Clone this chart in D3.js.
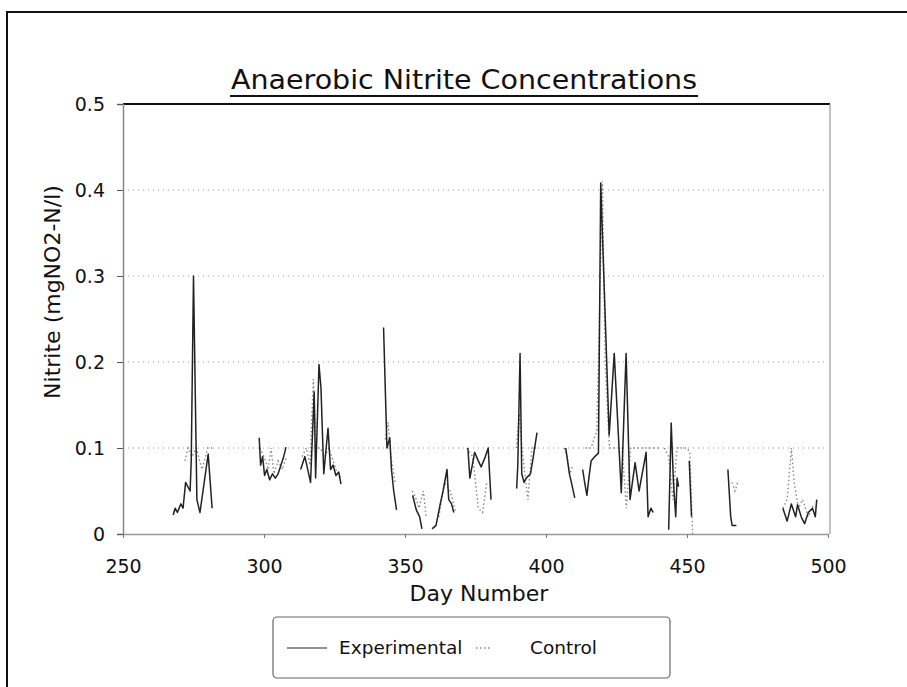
<!DOCTYPE html>
<html><head><meta charset="utf-8">
<script src="https://cdn.jsdelivr.net/npm/d3@7"></script>
<style>body{margin:0;background:#fff}svg{display:block}</style>
</head><body>
<svg id="c" width="907" height="687"></svg>
<script>
const chartTitle = "Anaerobic Nitrite Concentrations";
const xLabel = "Day Number";
const yLabel = "Nitrite (mgNO2-N/l)";
const seriesNames = ["Experimental", "Control"];
const xTicks = [250, 300, 350, 400, 450, 500];
const yTicks = [0, 0.1, 0.2, 0.3, 0.4, 0.5];
const gridValues = [0.1, 0.2, 0.3, 0.4];

// null entries break the line (sampling gaps)
const expDay = [267.8, 268.5, 269.3, 270.5, 271.3, 272.2, 273.8, 274.2, 275.0, 276.2, 277.3, 280.2, 281.6, null,
  298.3, 298.8, 299.5, 300.2, 301.0, 302.0, 303.0, 304.0, 305.0, 306.0, 307.0, 307.8, null,
  313.0, 314.5, 316.5, 317.8, 318.3, 319.5, 320.2, 321.2, 322.7, 323.6, 324.5, 325.5, 326.5, 327.3, null,
  342.4, 343.6, 344.6, 345.2, 346.0, 347.0, null,
  352.7, 354.0, 355.2, 356.0, 357.5, 359.6, 361.0, 362.5, 363.5, 364.9, 365.5, 366.5, 367.3, null,
  372.3, 373.0, 374.7, 376.0, 377.0, 378.5, 379.5, 380.5, null,
  389.6, 390.0, 390.8, 391.4, 392.2, 393.0, 394.5, 395.5, 396.8, null,
  407.0, 408.3, 409.0, 410.2, null,
  413.0, 413.7, 414.5, 415.2, 416.0, 417.3, 418.6, 419.4, 422.4, 424.2, 426.7, 428.4, 429.8, 431.6, 433.0, 435.5, 436.2, 437.2, 438.0, null,
  443.5, 444.4, 445.2, 446.0, 446.5, 447.0, null,
  450.8, 451.6, null,
  464.5, 465.5, 466.0, 467.5, null,
  484.0, 485.5, 487.0, 488.5, 489.2, 490.5, 491.7, 493.0, 494.5, 495.5, 496.0];
const expNitrite = [0.022, 0.030, 0.025, 0.035, 0.030, 0.060, 0.050, 0.085, 0.300, 0.040, 0.025, 0.093, 0.030, null,
  0.112, 0.080, 0.090, 0.068, 0.075, 0.063, 0.070, 0.065, 0.070, 0.080, 0.090, 0.101, null,
  0.075, 0.090, 0.060, 0.165, 0.065, 0.197, 0.170, 0.070, 0.123, 0.075, 0.080, 0.068, 0.072, 0.058, null,
  0.240, 0.100, 0.112, 0.075, 0.050, 0.028, null,
  0.045, 0.028, 0.020, 0.006, null, 0.006, 0.010, 0.035, 0.050, 0.075, 0.040, 0.035, 0.025, null,
  0.100, 0.065, 0.095, 0.085, 0.078, 0.090, 0.100, 0.040, null,
  0.053, 0.080, 0.210, 0.070, 0.060, 0.065, 0.070, 0.090, 0.118, null,
  0.100, 0.070, 0.060, 0.042, null,
  0.075, 0.060, 0.045, 0.065, 0.085, 0.090, 0.094, 0.408, 0.115, 0.210, 0.048, 0.210, 0.040, 0.083, 0.050, 0.095, 0.020, 0.030, 0.025, null,
  0.005, 0.129, 0.060, 0.020, 0.065, 0.055, null,
  0.085, 0.020, null,
  0.075, 0.020, 0.010, 0.010, null,
  0.030, 0.015, 0.035, 0.020, 0.034, 0.020, 0.012, 0.025, 0.030, 0.020, 0.040];

const ctlDay = [272.0, 273.0, 274.5, 276.0, 278.0, 280.0, 282.0, null,
  298.5, 300.0, 301.5, 302.5, 303.5, 305.0, 306.5, 308.0, null,
  313.5, 315.0, 316.3, 317.5, 318.5, 320.0, 321.5, 323.0, 324.5, 326.0, 327.5, null,
  343.0, 344.0, 345.0, 346.5, null,
  352.5, 353.5, 355.0, 356.5, 357.5, null,
  362.0, 364.0, 366.0, 368.0, null,
  372.0, 374.0, 376.0, 377.5, 379.0, null,
  389.5, 390.5, 391.5, 392.5, 393.6, 395.0, 396.5, null,
  406.5, 407.5, 408.5, 409.5, null,
  414.0, 416.0, 418.0, 419.0, 420.0, 421.0, 422.5, 424.0, 425.5, 427.0, 428.5, 430.0, 432.0, 434.0, 436.0, 438.0, 440.0, null,
  442.0, 443.5, 445.0, 446.5, 448.0, 450.0, 451.0, 452.0, null,
  466.0, 467.0, 468.0, null,
  484.0, 485.5, 487.0, 488.0, 489.5, 491.0, 493.0, 495.0];
const ctlNitrite = [0.085, 0.100, 0.090, 0.100, 0.075, 0.100, 0.100, null,
  0.100, 0.090, 0.075, 0.100, 0.070, 0.085, 0.075, 0.090, null,
  0.090, 0.100, 0.080, 0.180, 0.100, 0.100, 0.090, 0.100, 0.085, 0.070, 0.065, null,
  0.110, 0.130, 0.090, 0.060, null,
  0.050, 0.045, 0.030, 0.050, 0.020, null,
  0.020, 0.060, 0.050, 0.025, null,
  0.100, 0.090, 0.030, 0.025, 0.060, null,
  0.100, 0.140, 0.100, 0.070, 0.040, 0.100, 0.100, null,
  0.100, 0.090, 0.070, 0.080, null,
  0.100, 0.100, 0.120, 0.260, 0.410, 0.200, 0.100, 0.100, 0.100, 0.100, 0.030, 0.100, 0.100, 0.100, 0.100, 0.100, 0.100, null,
  0.100, 0.090, 0.040, 0.100, 0.100, 0.100, 0.095, 0.000, null,
  0.060, 0.050, 0.060, null,
  0.030, 0.040, 0.100, 0.060, 0.030, 0.040, 0.020, 0.035];

const FONT = "'DejaVu Sans', Arial, sans-serif";
const svg = d3.select("#c");

// outer frame
svg.append("rect").attr("x", 7).attr("y", 12).attr("width", 920).attr("height", 700)
  .attr("fill", "none").attr("stroke", "#111").attr("stroke-width", 2);

const x = d3.scaleLinear().domain([250, 500]).range([123, 828]);
const y = d3.scaleLinear().domain([0, 0.5]).range([534, 104]);

// gridlines (dotted)
svg.append("g").selectAll("line").data(gridValues).join("line")
  .attr("x1", x(250)).attr("x2", x(500))
  .attr("y1", d => y(d)).attr("y2", d => y(d))
  .attr("stroke", "#999").attr("stroke-width", 1).attr("stroke-dasharray", "1,4");

// plot border: top black, right gray
svg.append("line").attr("x1", x(250)).attr("x2", x(500) + 2).attr("y1", y(0.5)).attr("y2", y(0.5))
  .attr("stroke", "#111").attr("stroke-width", 2);
svg.append("line").attr("x1", x(500) + 2).attr("x2", x(500) + 2).attr("y1", y(0.5)).attr("y2", y(0))
  .attr("stroke", "#999").attr("stroke-width", 1.2);

// axes
const yAxis = svg.append("g").attr("transform", `translate(${x(250)},0)`)
  .call(d3.axisLeft(y).tickValues(yTicks).tickSize(6).tickPadding(12)
    .tickFormat(d => d === 0 ? "0" : d3.format(".1f")(d)));
yAxis.select(".domain").attr("stroke", "#888").attr("stroke-width", 1.5);
yAxis.selectAll(".tick line").attr("stroke", "#555");
yAxis.selectAll("text").attr("font-family", FONT).attr("font-size", 19).attr("fill", "#111");

const xAxis = svg.append("g").attr("transform", `translate(0,${y(0)})`)
  .call(d3.axisBottom(x).tickValues(xTicks).tickSize(4).tickPadding(22).tickSizeOuter(0));
xAxis.select(".domain").attr("stroke", "#999").attr("stroke-width", 1.5);
xAxis.selectAll(".tick line").attr("stroke", "#777");
xAxis.selectAll("text").attr("font-family", FONT).attr("font-size", 19).attr("fill", "#111");

// lines
const line = d3.line().defined(d => d[1] !== null).x(d => x(d[0])).y(d => y(d[1]));
const ctlPts = ctlDay.map((d, i) => [d, ctlNitrite[i]]);
const expPts = expDay.map((d, i) => [d, expNitrite[i]]);
svg.append("path").datum(ctlPts).attr("d", line).attr("fill", "none")
  .attr("stroke", "#888").attr("stroke-width", 1.4).attr("stroke-dasharray", "1.5,2.5");
svg.append("path").datum(expPts).attr("d", line).attr("fill", "none")
  .attr("stroke", "#222").attr("stroke-width", 1.5).attr("stroke-linejoin", "round");

// title
const titleW = 466;
svg.append("text").attr("x", 464).attr("y", 89).attr("text-anchor", "middle")
  .attr("font-family", FONT).attr("font-size", 26).attr("fill", "#111")
  .attr("textLength", titleW).attr("lengthAdjust", "spacingAndGlyphs").text(chartTitle);
svg.append("line").attr("x1", 464 - titleW / 2 - 1).attr("x2", 464 + titleW / 2 + 1).attr("y1", 96).attr("y2", 96)
  .attr("stroke", "#111").attr("stroke-width", 2);

// axis titles
svg.append("text").attr("x", 479).attr("y", 601).attr("text-anchor", "middle")
  .attr("font-family", FONT).attr("font-size", 22).attr("fill", "#111").text(xLabel);
svg.append("text").attr("transform", "translate(60,292) rotate(-90)").attr("text-anchor", "middle")
  .attr("font-family", FONT).attr("font-size", 22).attr("fill", "#111").text(yLabel);

// legend
const lg = svg.append("g");
lg.append("rect").attr("x", 273).attr("y", 617).attr("width", 397).attr("height", 61).attr("rx", 4)
  .attr("fill", "#fff").attr("stroke", "#666").attr("stroke-width", 1.2);
lg.append("line").attr("x1", 287).attr("x2", 327).attr("y1", 648).attr("y2", 648)
  .attr("stroke", "#222").attr("stroke-width", 1.2);
lg.append("text").attr("x", 339).attr("y", 654).attr("font-family", FONT).attr("font-size", 18.5)
  .attr("fill", "#111").text(seriesNames[0]);
lg.append("line").attr("x1", 476).attr("x2", 490).attr("y1", 648).attr("y2", 648)
  .attr("stroke", "#888").attr("stroke-width", 1.4).attr("stroke-dasharray", "1.5,2.5");
lg.append("text").attr("x", 530).attr("y", 654).attr("font-family", FONT).attr("font-size", 18.5)
  .attr("fill", "#111").text(seriesNames[1]);
</script>
</body></html>
